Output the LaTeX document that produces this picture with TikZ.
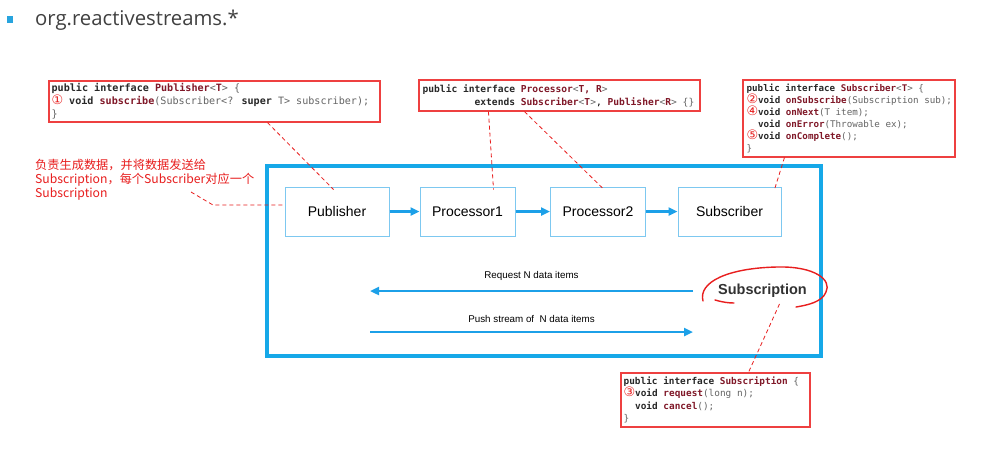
\documentclass[tikz,border=0pt]{standalone}
\usepackage{fontspec}
\setmainfont{Liberation Sans}
\newfontfamily\cjkfont{Noto Sans CJK SC}
\newfontfamily\monof{DejaVu Sans Mono}
\newfontfamily\circf{DejaVu Sans}
\newfontfamily\titlef{Open Sans}
\usetikzlibrary{arrows.meta,calc}
\definecolor{frameblue}{RGB}{22,168,232}
\definecolor{nodeblue}{RGB}{125,200,240}
\definecolor{arrowblue}{RGB}{28,160,232}
\definecolor{codeborder}{RGB}{238,64,64}
\definecolor{codekw}{RGB}{40,40,40}
\definecolor{codename}{RGB}{128,24,40}
\definecolor{codegray}{RGB}{100,100,100}
\definecolor{annred}{RGB}{232,30,30}
\definecolor{titlegray}{RGB}{64,64,64}
\definecolor{bulletblue}{RGB}{40,164,222}
\definecolor{subgray}{RGB}{50,50,50}
\newcommand\kw[1]{\textcolor{codekw}{\bfseries #1}}
\newcommand\nm[1]{\textcolor{codename}{\bfseries #1}}
\newcommand\gr[1]{\textcolor{codegray}{#1}}
\newcommand\cnum[1]{\makebox[11.5pt][l]{\textcolor{annred}{\circf\fontsize{13}{11}\selectfont #1}}}
\tikzset{
  codebox/.style={draw=codeborder, line width=1.1pt, inner sep=0pt},
  codetext/.style={anchor=west, align=left, inner sep=0pt},
  stage/.style={draw=nodeblue, line width=1pt, minimum height=49pt, inner sep=0pt, font=\fontsize{14}{14}\selectfont, text=black},
  flow/.style={draw=arrowblue, line width=2.8pt, -{Triangle[length=9pt,width=8pt]}},
  reddash/.style={draw=annred, line width=0.8pt, dash pattern=on 4pt off 3pt},
  lbl/.style={font=\fontsize{9.8}{10}\selectfont, text=black, inner sep=0pt},
}
\begin{document}
\begin{tikzpicture}[x=1pt,y=-1pt]
\fill[white] (0,0) rectangle (1003,448);
\useasboundingbox (0,0) rectangle (1003,448);

% title
\node[fill=bulletblue, minimum size=6.5pt, inner sep=0pt] (bullet) at (10,19.5) {};
\node[anchor=base west, font=\titlef\fontsize{20.3}{20}\selectfont, text=titlegray, inner sep=0pt] (title) at (35,25) {org.reactivestreams.*};

% code boxes
\node[codebox, minimum width=331pt, minimum height=41pt] (pubcode) at (214.5,101.5) {};
\node[codetext, font=\monof\fontsize{10.1}{13}\selectfont] (pubtext) at ($(pubcode.west)+(3,0)$) {%
\kw{public interface} \nm{Publisher}\gr{<}\nm{T}\gr{>} \gr{\{}\\
\cnum{①}\ \kw{void} \nm{subscribe}\gr{(Subscriber<?} \kw{super} \gr{T> subscriber);}\\
\gr{\}}};

\node[codebox, minimum width=281pt, minimum height=31pt] (proccode) at (559.5,95.5) {};
\node[codetext, font=\monof\fontsize{9.6}{13}\selectfont] (proctext) at ($(proccode.west)+(4,0)$) {%
\kw{public interface} \nm{Processor}\gr{<}\nm{T, R}\gr{>}\\
\hspace*{52pt}\kw{extends} \nm{Subscriber}\gr{<}\nm{T}\gr{>}, \nm{Publisher}\gr{<}\nm{R}\gr{>} \gr{\{\}}};

\node[codebox, minimum width=212pt, minimum height=77pt] (subcode) at (849,118.5) {};
\node[codetext, font=\monof\fontsize{9.2}{12}\selectfont] (subtext) at ($(subcode.west)+(4,0)$) {%
\kw{public interface} \nm{Subscriber}\gr{<}\nm{T}\gr{>} \gr{\{}\\
\cnum{②}\kw{void} \nm{onSubscribe}\gr{(Subscription sub);}\\
\cnum{④}\kw{void} \nm{onNext}\gr{(T item);}\\
\hspace*{11.5pt}\kw{void} \nm{onError}\gr{(Throwable ex);}\\
\cnum{⑤}\kw{void} \nm{onComplete}\gr{();}\\
\gr{\}}};

\node[codebox, minimum width=189pt, minimum height=54pt] (scode) at (715.5,400) {};
\node[codetext, font=\monof\fontsize{9.4}{12.5}\selectfont] (stext) at ($(scode.west)+(3,0)$) {%
\kw{public interface} \nm{Subscription} \gr{\{}\\
\cnum{③}\kw{void} \nm{request}\gr{(long n);}\\
\hspace*{11.5pt}\kw{void} \nm{cancel}\gr{();}\\
\gr{\}}};

% frame
\node[draw=frameblue, line width=4pt, minimum width=553.5pt, minimum height=189.5pt, inner sep=0pt] (frame) at (543.75,260.75) {};

% stages
\node[stage, minimum width=104pt] (publisher) at (337,211.5) {Publisher};
\node[stage, minimum width=95pt] (proc1) at (467.5,211.5) {Processor1};
\node[stage, minimum width=95pt] (proc2) at (598,211.5) {Processor2};
\node[stage, minimum width=103pt] (subscriber) at (729.5,211.5) {Subscriber};
\draw[flow] (publisher) -- (proc1);
\draw[flow] (proc1) -- (proc2);
\draw[flow] (proc2) -- (subscriber);

% subscription
\node[font=\bfseries\fontsize{14.5}{14.5}\selectfont, text=subgray, inner sep=0pt] (subs) at (762.5,291) {Subscription};
\draw[annred, line width=1.4pt, line cap=round] (703,301) .. controls (698,282) and (728,268) .. (777,267) .. controls (815,266) and (832,280) .. (826,292) .. controls (822,302) and (808,305) .. (796,307);
\draw[annred, line width=1.4pt, line cap=round] (715,300) .. controls (722,302) and (728,303) .. (734,303);

\coordinate (reqR) at (693,291);
\coordinate (reqL) at (370,291);
\coordinate (pushL) at (370,332);
\coordinate (pushR) at (693,332);
\draw[flow, line width=2.5pt] (reqR) -- node[lbl, midway, yshift=15pt] (reqlbl) {Request N data items} (reqL);
\draw[flow, line width=2.5pt] (pushL) -- node[lbl, midway, yshift=13pt] (pushlbl) {Push stream of\ \ N data items} (pushR);

% annotation
\node[anchor=north west, align=left, font=\cjkfont\fontsize{12.2}{14.2}\selectfont, text=annred, inner sep=0pt] (note) at (35,158.5) {负责生成数据，并将数据发送给\\Subscription，每个Subscriber对应一个\\Subscription};
\coordinate (noteend) at (191,192);
\draw[reddash] (noteend) -- (213,205) -- ($(publisher.west)+(0,-6.5)$);

% dashed connectors
\draw[reddash] ($(pubcode.south west)+(219,0)$) -- ($(publisher.north west)+(49,3)$);
\draw[reddash] ($(proccode.south west)+(70,0)$) -- ($(proc1.north west)+(74,3)$);
\draw[reddash] ($(proccode.south west)+(106,0)$) -- ($(proc2.north west)+(54,3)$);
\draw[reddash] ($(subcode.south west)+(42,0)$) -- ($(subscriber.north west)+(97,3)$);
\draw[reddash] ($(subs.south)+(17,6)$) -- ($(scode.north west)+(128,0)$);
\end{tikzpicture}
\end{document}
